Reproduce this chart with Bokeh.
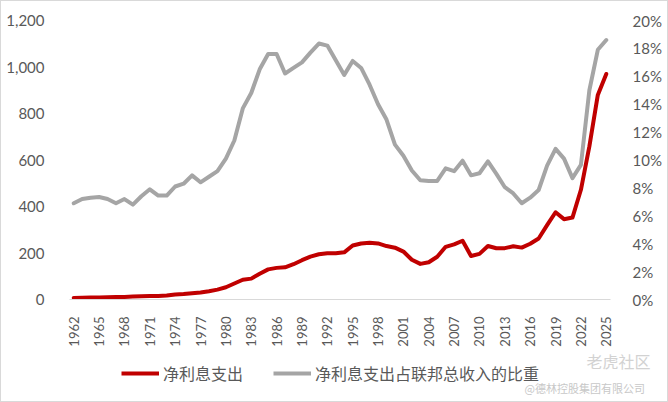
from math import pi
from bokeh.plotting import figure
from bokeh.layouts import column
from bokeh.models import (Range1d, LinearAxis, FixedTicker, NumeralTickFormatter,
                          PrintfTickFormatter, Legend, LegendItem, Label)
from bokeh.embed import file_html
from bokeh.resources import INLINE

years = list(range(1962, 2026))
tick_years = [1962, 1965, 1968, 1971, 1974, 1977, 1980, 1983, 1986, 1989, 1992,
              1995, 1998, 2001, 2004, 2007, 2010, 2013, 2016, 2019, 2022, 2025]

# 净利息支出 (十亿美元)
net_interest = [6.9, 7.7, 8.2, 8.6, 9.4, 10.3, 11.1, 12.7, 14.4, 14.8,
                15.5, 17.3, 21.4, 23.2, 26.7, 29.9, 35.5, 42.6, 52.5, 68.8,
                85.0, 89.8, 111.1, 129.5, 136.0, 138.6, 151.8, 169.0, 184.3, 194.4,
                199.3, 198.7, 202.9, 232.1, 241.1, 244.0, 241.1, 229.8, 222.9, 206.2,
                170.9, 153.1, 160.2, 184.0, 226.6, 237.1, 252.8, 186.9, 196.2, 230.0,
                220.4, 220.9, 228.9, 223.2, 240.0, 262.6, 320.0, 375.2, 345.5, 352.3,
                472.0, 658.3, 880.0, 970.0]

# 净利息支出占联邦总收入的比重 (%)
share_pct = [6.9, 7.2, 7.3, 7.35, 7.2, 6.9, 7.2, 6.8, 7.4, 7.9,
             7.45, 7.45, 8.1, 8.3, 8.9, 8.4, 8.8, 9.2, 10.1, 11.4,
             13.7, 14.8, 16.5, 17.6, 17.6, 16.2, 16.6, 17.0, 17.7, 18.35,
             18.2, 17.15, 16.1, 17.1, 16.6, 15.4, 14.0, 12.9, 11.1, 10.3,
             9.25, 8.55, 8.5, 8.5, 9.4, 9.2, 9.95, 8.9, 9.05, 9.9,
             9.0, 8.05, 7.6, 6.9, 7.3, 7.85, 9.6, 10.8, 10.1, 8.7,
             9.65, 15.0, 17.9, 18.6]

left_ticks = [0, 200, 400, 600, 800, 1000, 1200]
right_ticks = [0, 2, 4, 6, 8, 10, 12, 14, 16, 18, 20]

series_names = ["净利息支出", "净利息支出占联邦总收入的比重"]
series_colors = ["#C00000", "#A5A5A5"]

TXT = "#595959"
NUM_FONT = "Lato"

p = figure(width=666, height=348, output_backend="svg", toolbar_location=None,
           x_range=Range1d(1961.5, 2025.5), y_range=Range1d(0, 1200),
           min_border_left=68, min_border_right=57, min_border_top=19,
           min_border_bottom=45)
p.frame_align = False
p.xgrid.visible = False
p.ygrid.visible = False
p.outline_line_color = None
p.extra_y_ranges = {"pct": Range1d(0, 20)}

xa = p.xaxis[0]
xa.ticker = FixedTicker(ticks=tick_years)
xa.major_label_orientation = pi / 2
xa.major_tick_line_color = None
xa.minor_tick_line_color = None
xa.axis_line_color = "#D9D9D9"
xa.axis_line_width = 1
xa.major_label_text_font = NUM_FONT
xa.major_label_text_font_size = "13px"
xa.major_label_text_color = TXT
xa.major_label_standoff = 11

ya = p.yaxis[0]
ya.ticker = FixedTicker(ticks=left_ticks)
ya.formatter = NumeralTickFormatter(format="0,0")
ya.axis_line_color = None
ya.major_tick_line_color = None
ya.minor_tick_line_color = None
ya.major_label_text_font = NUM_FONT
ya.major_label_text_font_size = "15px"
ya.major_label_text_color = TXT
ya.major_label_standoff = 19

ra = LinearAxis(y_range_name="pct", ticker=FixedTicker(ticks=right_ticks),
                formatter=PrintfTickFormatter(format="%d%%"))
ra.axis_line_color = None
ra.major_tick_line_color = None
ra.minor_tick_line_color = None
ra.major_label_text_font = NUM_FONT
ra.major_label_text_font_size = "15px"
ra.major_label_text_color = TXT
ra.major_label_standoff = 16
p.add_layout(ra, "right")

p.line(years, net_interest, line_color=series_colors[0], line_width=4,
       line_join="round", line_cap="round")
p.line(years, share_pct, y_range_name="pct", line_color=series_colors[1],
       line_width=4, line_join="round", line_cap="round")

# legend / watermark strip below the chart (page pixel coordinates)
q = figure(width=666, height=52, output_backend="svg", toolbar_location=None,
           x_range=Range1d(1, 667), y_range=Range1d(401, 349),
           x_axis_type=None, y_axis_type=None,
           min_border_left=0, min_border_right=0, min_border_top=0,
           min_border_bottom=0)
q.frame_align = False
q.xgrid.visible = False
q.ygrid.visible = False
q.outline_line_color = None
# legend swatches: same series, lying outside this strip's visible range
k1 = q.line(years, net_interest, line_color=series_colors[0], line_width=4)
k2 = q.line(years, share_pct, line_color=series_colors[1], line_width=4)
legend = Legend(items=[LegendItem(label=series_names[0], renderers=[k1]),
                       LegendItem(label=series_names[1], renderers=[k2])],
                orientation="horizontal", location=(120, 16),
                border_line_color=None, background_fill_alpha=0,
                label_text_font="Noto Sans CJK SC", label_text_font_size="16px",
                label_text_color=TXT, glyph_width=38, glyph_height=20,
                label_standoff=4, spacing=30, padding=5, margin=0)
q.add_layout(legend)

wm1 = Label(x=586, y=360, text="老虎社区",
            text_font="Noto Sans CJK SC", text_font_size="16px",
            text_color="#D2D2D2", text_baseline="middle", text_align="left")
wm2 = Label(x=524, y=387, text="@德林控股集团有限公司",
            text_font="Noto Sans CJK SC", text_font_size="11px",
            text_color="#C8C8C8", text_baseline="middle", text_align="left")
q.add_layout(wm1)
q.add_layout(wm2)

layout = column(p, q, spacing=0)
layout.styles = {"border": "1px solid #D9D9D9"}
open("out.html", "w").write(file_html(layout, INLINE))
